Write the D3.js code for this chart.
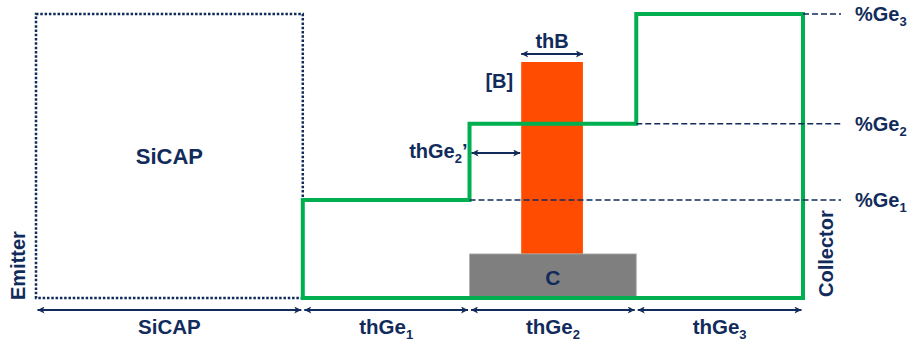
<!DOCTYPE html>
<html>
<head>
<meta charset="utf-8">
<script src="https://cdn.jsdelivr.net/npm/d3@7"></script>
<style>
  html, body { margin: 0; padding: 0; background: #fff; }
  svg text { font-family: "Liberation Sans", Arial, sans-serif; font-weight: bold; fill: #112b5a; }
</style>
</head>
<body>
<svg id="svg_profile" width="911" height="344"></svg>
<script>
// layer stack (arbitrary thickness units)
const layers = ['SiCAP', 'thGe', 'thGe', 'thGe'];
const layerSubs = ['', '1', '2', '3'];
const layerWidths = [8, 5, 5, 5];

// Ge plateau levels (%)
const geLevels = [10, 17.8, 29];
const geSubs = ['1', '2', '3'];

// boron spike inside thGe2: [offset from layer start, end]
const boronSpan = [1.55, 3.4];
const boronPeak = 24.1;
// carbon layer height
const carbonHeight = 4.5;

const navy = '#112b5a';
const green = '#00b050';

// cumulative layer edges
const edges = [0];
layerWidths.forEach((w, i) => edges.push(edges[i] + w));

const x = d3.scaleLinear().domain([0, edges[edges.length - 1]]).range([36, 803]);
const y = d3.scaleLinear().domain([0, geLevels[2]]).range([298, 14]);

const svg = d3.select('#svg_profile');

const defs = svg.append('defs');
['start', 'end'].forEach((k) => {
  defs.append('marker')
    .attr('id', 'arr-' + k)
    .attr('viewBox', '0 0 10 10')
    .attr('refX', k === 'end' ? 10 : 0)
    .attr('refY', 5)
    .attr('markerWidth', 8)
    .attr('markerHeight', 7)
    .attr('markerUnits', 'userSpaceOnUse')
    .attr('orient', 'auto')
    .append('path')
    .attr('d', k === 'end' ? 'M0,0 L10,5 L0,10 L2.5,5 Z' : 'M10,0 L0,5 L10,10 L7.5,5 Z')
    .attr('fill', navy);
});

// SiCAP dotted box
svg.append('rect')
  .attr('x', x(edges[0]))
  .attr('y', y(geLevels[2]))
  .attr('width', x(edges[1]) - x(edges[0]))
  .attr('height', y(0) - y(geLevels[2]))
  .attr('fill', 'none')
  .attr('stroke', navy)
  .attr('stroke-width', 2.5)
  .attr('stroke-dasharray', '2.5,1.8');

// boron spike
svg.append('rect')
  .attr('x', x(edges[2] + boronSpan[0]))
  .attr('y', y(boronPeak))
  .attr('width', x(edges[2] + boronSpan[1]) - x(edges[2] + boronSpan[0]))
  .attr('height', y(carbonHeight) - y(boronPeak))
  .attr('fill', '#ff4c00');

// carbon layer
svg.append('rect')
  .attr('x', x(edges[2]))
  .attr('y', y(carbonHeight))
  .attr('width', x(edges[3]) - x(edges[2]))
  .attr('height', y(0) - y(carbonHeight))
  .attr('fill', '#7f7f7f')
  .attr('stroke', '#b0b0b0')
  .attr('stroke-width', 0.8);

// Ge profile (stepped)
const profile = [
  [edges[1], 0], [edges[1], geLevels[0]],
  [edges[2], geLevels[0]], [edges[2], geLevels[1]],
  [edges[3], geLevels[1]], [edges[3], geLevels[2]],
  [edges[4], geLevels[2]], [edges[4], 0]
];
svg.append('path')
  .attr('d', d3.line().x((d) => x(d[0])).y((d) => y(d[1]))(profile) + 'Z')
  .attr('fill', 'none')
  .attr('stroke', green)
  .attr('stroke-width', 4)
  .attr('stroke-linejoin', 'miter');

// dashed level guides
const guideStart = [edges[2], edges[3], edges[4]];
svg.selectAll('.guide')
  .data(geLevels)
  .join('line')
  .attr('class', 'guide')
  .attr('x1', (d, i) => x(guideStart[i]))
  .attr('x2', 841)
  .attr('y1', (d) => y(d))
  .attr('y2', (d) => y(d))
  .attr('stroke', navy)
  .attr('stroke-width', 1.6)
  .attr('stroke-dasharray', '6,3');

// level labels
const geLabel = svg.selectAll('.ge-label')
  .data(geLevels)
  .join('text')
  .attr('class', 'ge-label')
  .attr('x', 855)
  .attr('y', (d) => y(d) + 7)
  .attr('font-size', 20);
geLabel.append('tspan').text('%Ge');
geLabel.append('tspan').attr('font-size', 13).attr('dy', 5).text((d, i) => geSubs[i]);

// double arrows helper
function arrow(x1, x2, yy) {
  svg.append('line')
    .attr('x1', x1).attr('x2', x2)
    .attr('y1', yy).attr('y2', yy)
    .attr('stroke', navy)
    .attr('stroke-width', 1.8)
    .attr('marker-start', 'url(#arr-start)')
    .attr('marker-end', 'url(#arr-end)');
}

// thickness arrows under the stack
layers.forEach((l, i) => arrow(x(edges[i]) + 1.5, x(edges[i + 1]) - 1.5, 310));

const bottomLabel = svg.selectAll('.layer-label')
  .data(layers)
  .join('text')
  .attr('class', 'layer-label')
  .attr('x', (d, i) => x((edges[i] + edges[i + 1]) / 2))
  .attr('y', 334)
  .attr('font-size', 20.5)
  .attr('text-anchor', 'middle');
bottomLabel.append('tspan').text((d) => d);
bottomLabel.append('tspan').attr('font-size', 13).attr('dy', 5).text((d, i) => layerSubs[i]);

// thB arrow and label
const bx0 = x(edges[2] + boronSpan[0]);
const bx1 = x(edges[2] + boronSpan[1]);
arrow(bx0, bx1, 54);
svg.append('text')
  .attr('x', (bx0 + bx1) / 2).attr('y', 48)
  .attr('font-size', 20).attr('text-anchor', 'middle')
  .text('thB');

svg.append('text')
  .attr('x', bx0 - 8).attr('y', 88)
  .attr('font-size', 20).attr('text-anchor', 'end')
  .text('[B]');

// thGe2' arrow and label
arrow(x(edges[2]) + 2, bx0 - 1, 153);
const tg = svg.append('text')
  .attr('x', x(edges[2]) - 2).attr('y', 158)
  .attr('font-size', 20).attr('text-anchor', 'end');
tg.append('tspan').text('thGe');
tg.append('tspan').attr('font-size', 13).attr('dy', 5).text('2');
tg.append('tspan').attr('dy', -5).text('\u2019');

// carbon label
svg.append('text')
  .attr('x', x((edges[2] + edges[3]) / 2)).attr('y', 285)
  .attr('font-size', 21).attr('text-anchor', 'middle')
  .text('C');

// SiCAP label in box
svg.append('text')
  .attr('x', x((edges[0] + edges[1]) / 2)).attr('y', 164)
  .attr('font-size', 22).attr('text-anchor', 'middle')
  .text('SiCAP');

// side labels
svg.append('text')
  .attr('transform', 'translate(25,300) rotate(-90)')
  .attr('font-size', 20)
  .text('Emitter');

svg.append('text')
  .attr('transform', 'translate(833,297) rotate(-90)')
  .attr('font-size', 20)
  .text('Collector');
</script>
</body>
</html>
